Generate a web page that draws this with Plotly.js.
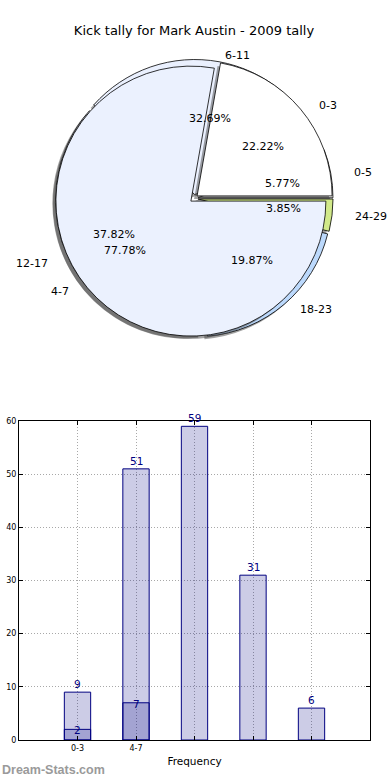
<!DOCTYPE html>
<html>
<head>
<meta charset="utf-8">
<script src="https://cdn.plot.ly/plotly-3.0.1.min.js"></script>
<style>html,body{margin:0;padding:0;background:#fff}#chart{width:390px;height:780px}</style>
</head>
<body>
<div id="chart"></div>
<script>
// ---------- DATA ----------
const chartTitle = 'Kick tally for Mark Austin - 2009 tally';
const outerLabels = ['0-5', '6-11', '12-17', '18-23', '24-29'];
const outerValues = [9, 51, 59, 31, 6];
const innerLabels = ['0-3', '4-7'];
const innerValues = [2, 7];
const barPositions = [1, 2, 3, 4, 5];
const barValues = [9, 51, 59, 31, 6];
const barTickLabels = ['0-3', '4-7', '', '', ''];
const subPositions = [1, 2];
const subValues = [2, 7];
const xAxisTitle = 'Frequency';
const watermark = 'Dream-Stats.com';

// ---------- STYLE / GEOMETRY ----------
const W = 390, H = 780;
const FONT = 'DejaVu Sans, sans-serif';
const CX = 194, CY = 198.5, R = 135, PULL = 0.03;
const TRX = 146, TRY = 132;       // text placement radii
const LABEL_DIST = 1.1, PCT_DIST = 0.615;
const SH_DX = -3, SH_DY = 3;       // shadow offset in px (left, down)
const outerColors = ['#ffffff', '#eaf0fe', '#eaf0fe', '#bcd9fc', '#d1e98a'];
const innerColors = ['#ffffff', '#ebf1fe'];
const shadowColor = 'rgba(70,70,70,0.5)';
const navy = '#000080';

function pieDomain(dx, dy) {
  const box = 2 * R * (1 + PULL);
  const cx = CX + dx, cy = CY + dy;
  return {
    x: [(cx - box / 2) / W, (cx + box / 2) / W],
    y: [1 - (cy + box / 2) / H, 1 - (cy - box / 2) / H]
  };
}

function pieTrace(labels, values, colors, shadow) {
  const total = values.reduce((a, b) => a + b, 0);
  // first slice starts at 3 o'clock and runs counterclockwise
  const rot = 90 - values[0] / total * 360;
  return {
    type: 'pie',
    labels: labels,
    values: values,
    sort: false,
    direction: 'counterclockwise',
    rotation: rot,
    pull: values.map(() => PULL),
    textinfo: 'none',
    hoverinfo: 'skip',
    showlegend: false,
    domain: shadow ? pieDomain(SH_DX, SH_DY) : pieDomain(0, 0),
    marker: shadow
      ? {colors: values.map(() => shadowColor), line: {width: 0}}
      : {colors: colors, line: {color: '#000000', width: 0.8}}
  };
}

function pieAnnotations(labels, values) {
  const total = values.reduce((a, b) => a + b, 0);
  let cum = 0;
  const anns = [];
  values.forEach((v, i) => {
    const mid = (cum + v / 2) / total * 2 * Math.PI;
    cum += v;
    const c = Math.cos(mid), s = Math.sin(mid);
    anns.push({
      xref: 'paper', yref: 'paper', showarrow: false,
      x: (CX + LABEL_DIST * TRX * c) / W,
      y: 1 - (CY - LABEL_DIST * TRY * s) / H,
      xanchor: c >= 0 ? 'left' : 'right', yanchor: 'middle',
      text: labels[i],
      font: {family: FONT, size: 11, color: '#000'}
    });
    anns.push({
      xref: 'paper', yref: 'paper', showarrow: false,
      x: (CX + PCT_DIST * TRX * c) / W,
      y: 1 - (CY - PCT_DIST * TRY * s) / H,
      xanchor: 'center', yanchor: 'middle',
      text: (v / total * 100).toFixed(2) + '%',
      font: {family: FONT, size: 11, color: '#000'}
    });
  });
  return anns;
}

const barTrace = {
  type: 'bar', x: barPositions, y: barValues, width: 0.45,
  marker: {color: 'rgba(0,0,128,0.2)', line: {color: navy, width: 1}},
  hoverinfo: 'skip', showlegend: false, xaxis: 'x', yaxis: 'y'
};
const subTrace = {
  type: 'bar', x: subPositions, y: subValues, width: 0.45,
  marker: {color: 'rgba(0,0,128,0.2)', line: {color: navy, width: 1}},
  hoverinfo: 'skip', showlegend: false, xaxis: 'x', yaxis: 'y'
};

const barAnns = barPositions.map((x, i) => ({
  xref: 'x', yref: 'y', x: x, y: barValues[i], text: String(barValues[i]),
  showarrow: false, xanchor: 'center', yanchor: 'bottom', yshift: 0,
  font: {family: FONT, size: 10.5, color: navy}
}));
const subAnns = subPositions.map((x, i) => ({
  xref: 'x', yref: 'y', x: x, y: subValues[i], text: String(subValues[i]),
  showarrow: false, xanchor: 'center', yanchor: 'middle', yshift: -1,
  font: {family: FONT, size: 10.5, color: navy}
}));

const axisCommon = {
  showline: true, linecolor: '#000', linewidth: 1, mirror: 'ticks',
  ticks: 'inside', ticklen: 4, tickcolor: '#000', tickwidth: 1,
  showgrid: true, gridcolor: '#a8a8a8', gridwidth: 1, griddash: '1px,2px',
  zeroline: false, tickfont: {family: FONT, size: 8, color: '#000'}
};

const layout = {
  width: W, height: H,
  margin: {l: 0, r: 0, t: 0, b: 0},
  paper_bgcolor: '#fff', plot_bgcolor: '#fff',
  font: {family: FONT},
  title: {text: chartTitle, x: 194 / W, xanchor: 'center', y: 1 - 30 / H, yanchor: 'middle',
          font: {family: FONT, size: 13, color: '#000'}},
  barmode: 'overlay',
  xaxis: Object.assign({}, axisCommon, {
    domain: [19 / W, 370 / W], range: [0, 6],
    tickvals: barPositions, ticktext: barTickLabels,
    title: {text: xAxisTitle, font: {family: FONT, size: 10.5, color: '#000'}, standoff: 6}
  }),
  yaxis: Object.assign({}, axisCommon, {
    domain: [1 - 740 / H, 1 - 421 / H], range: [0, 60], dtick: 10
  }),
  annotations: pieAnnotations(outerLabels, outerValues)
    .concat(pieAnnotations(innerLabels, innerValues))
    .concat(barAnns).concat(subAnns)
    .concat([{
      xref: 'paper', yref: 'paper', x: 0, y: 1 - 770 / H, xanchor: 'left', yanchor: 'middle',
      showarrow: false, text: '<b>' + watermark + '</b>',
      font: {family: 'Liberation Sans, Arial, sans-serif', size: 12.5, color: '#9a9a9a'}
    }])
};

const data = [
  pieTrace(outerLabels, outerValues, outerColors, true),
  pieTrace(outerLabels, outerValues, outerColors, false),
  pieTrace(innerLabels, innerValues, innerColors, true),
  pieTrace(innerLabels, innerValues, innerColors, false),
  barTrace, subTrace
];

Plotly.newPlot('chart', data, layout, {staticPlot: true, displayModeBar: false});
</script>
</body>
</html>
